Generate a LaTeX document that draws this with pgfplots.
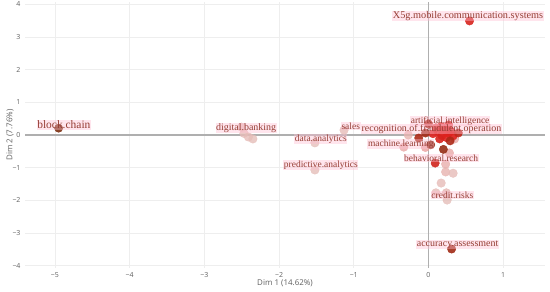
\documentclass[border=0pt]{standalone}
\usepackage{pgfplots}
\pgfplotsset{compat=1.18}
\usepackage{fontspec}
\setmainfont{Liberation Serif}
\newfontfamily\tickfont{Open Sans}
\definecolor{gridc}{RGB}{238,238,238}
\definecolor{zeroc}{RGB}{175,175,175}
\definecolor{tickc}{RGB}{95,95,95}
\definecolor{labc}{RGB}{150,62,52}
\definecolor{labbg}{RGB}{255,190,210}

\begin{document}
\begin{tikzpicture}
\begin{axis}[
  scale only axis, width=520bp, height=266bp,
  xmin=-5.4, xmax=1.56, ymin=-4.07, ymax=4.07,
  axis line style={draw=none}, major tick length=0pt,
  xtick={-5,-4,-3,-2,-1,1}, xticklabels={−5,−4,−3,−2,−1,1},
  ytick={-4,-3,-2,-1,1,2,3,4}, yticklabels={−4,−3,−2,−1,1,2,3,4},
  extra x ticks={0}, extra x tick labels={0},
  extra y ticks={0}, extra y tick labels={0},
  extra tick style={grid style={zeroc, line width=1.2pt}},
  grid=major, grid style={gridc, line width=0.6pt},
  tick label style={font=\tickfont\fontsize{7}{8}\selectfont, text=tickc},
  xticklabel style={yshift=-1pt}, yticklabel style={xshift=-1pt},
  xlabel={Dim 1 (14.62\%)}, ylabel={Dim 2 (7.76\%)},
  label style={font=\tickfont\fontsize{8}{9}\selectfont, text=tickc},
  xlabel style={yshift=5pt}, ylabel style={yshift=-8pt},
  colormap={cm}{rgb255=(228,198,192) rgb255=(236,150,150) rgb255=(222,34,30) rgb255=(185,40,25) rgb255=(125,48,18)},
  point meta min=0, point meta max=1,
  clip=false]
% light points
\addplot[scatter, only marks, mark=*, mark size=4.3pt, scatter/use mapped color={draw=mapped color, fill=mapped color}, opacity=0.8, point meta=explicit]
 coordinates {
 (-2.50,0.24) [0.05] (-2.47,0.05) [0.05] (-2.41,-0.06) [0.05] (-2.35,-0.12) [0.04]
 (-1.13,0.15) [0.05] (-1.52,-0.24) [0.03] (-1.52,-1.07) [0.04]
 (-0.33,-0.37) [0.15] (-0.27,0.0) [0.1] (-0.04,-0.38) [0.2] (0.35,-0.12) [0.15]
 (0.23,-0.89) [0.12] (0.23,-1.13) [0.1] (0.33,-1.17) [0.05] (0.17,-1.47) [0.05]
 (0.10,-1.77) [0.05] (0.24,-1.77) [0.08] (0.25,-1.99) [0.04] (0.28,-0.55) [0.15]
 };
% red / dark points
\addplot[scatter, only marks, mark=*, mark size=4.2pt, scatter/use mapped color={draw=mapped color, fill=mapped color}, opacity=0.9, point meta=explicit]
 coordinates {
 (0.13,0.10) [0.5] (0.22,0.16) [0.5] (0.18,-0.02) [0.55] (0.27,0.05) [0.5]
 (0.10,0.22) [0.55] (0.27,0.31) [0.5] (0.20,0.07) [0.48] (0.24,-0.08) [0.5]
 (0.30,0.12) [0.52] (0.15,-0.12) [0.55] (0.09,-0.86) [0.6] (0.06,0.04) [0.5]
 (0.33,-0.03) [0.5] (0.17,0.26) [0.5]
 (-0.13,-0.09) [0.8] (-0.04,0.06) [0.85] (0.00,0.34) [0.75] (0.40,0.06) [0.7]
 (0.03,-0.30) [0.9] (0.20,-0.44) [0.9] (0.29,-0.18) [0.8]
 (0.55,3.49) [0.55] (0.31,-3.49) [0.85] (-4.95,0.21) [1.0]
 };
% labels
\addplot[only marks, mark=none, point meta=explicit symbolic, nodes near coords,
  nodes near coords align={center},
  every node near coord/.append style={text=labc, fill=labbg, fill opacity=0.4, text opacity=1, inner sep=0.6pt, font=\fontsize{9.5}{10}\selectfont}]
 coordinates {
 (-1.04,0.28) [sales] (-1.44,-0.12) [data.analytics] (-1.44,-0.92) [predictive.analytics]
 (-0.37,-0.28) [machine.learning] (0.29,0.43) [artificial.intelligence]
 (0.17,-0.70) [behavioral.research] (0.32,-1.83) [credit.risks]
 };
\addplot[only marks, mark=none, point meta=explicit symbolic, nodes near coords,
  nodes near coords align={center},
  every node near coord/.append style={text=labc, fill=labbg, fill opacity=0.4, text opacity=1, inner sep=0.6pt, font=\fontsize{10}{11}\selectfont}]
 coordinates {
 (-2.44,0.21) [digital.banking] (0.04,0.18) [recognition.of.fraudulent.operation]
 (0.39,-3.36) [accuracy.assessment]
 };
\addplot[only marks, mark=none, point meta=explicit symbolic, nodes near coords,
  nodes near coords align={center},
  every node near coord/.append style={text=labc, fill=labbg, fill opacity=0.4, text opacity=1, inner sep=0.6pt, font=\fontsize{10.3}{11}\selectfont}]
 coordinates {
 (0.53,3.64) [X5g.mobile.communication.systems]
 };
\addplot[only marks, mark=none, point meta=explicit symbolic, nodes near coords,
  nodes near coords align={center},
  every node near coord/.append style={text=labc, fill=labbg, fill opacity=0.4, text opacity=1, inner sep=0.6pt, font=\fontsize{11.5}{12}\selectfont}]
 coordinates {
 (-4.88,0.31) [block.chain]
 };
\end{axis}
\pgfresetboundingbox
\useasboundingbox (current axis.south west) ++(-25bp,-24bp) rectangle ++(550bp,292bp);
\end{tikzpicture}
\end{document}
